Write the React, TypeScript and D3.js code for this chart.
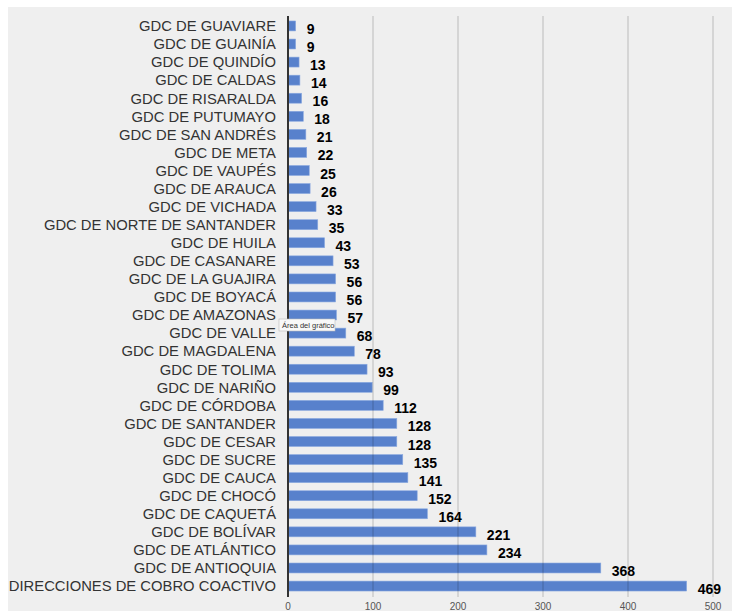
import * as d3 from "d3"
import { useEffect, useRef } from "react"

const categories = [
    "GDC DE GUAVIARE", "GDC DE GUAINÍA", "GDC DE QUINDÍO", "GDC DE CALDAS",
    "GDC DE RISARALDA", "GDC DE PUTUMAYO", "GDC DE SAN ANDRÉS", "GDC DE META",
    "GDC DE VAUPÉS", "GDC DE ARAUCA", "GDC DE VICHADA", "GDC DE NORTE DE SANTANDER",
    "GDC DE HUILA", "GDC DE CASANARE", "GDC DE LA GUAJIRA", "GDC DE BOYACÁ",
    "GDC DE AMAZONAS", "GDC DE VALLE", "GDC DE MAGDALENA", "GDC DE TOLIMA",
    "GDC DE NARIÑO", "GDC DE CÓRDOBA", "GDC DE SANTANDER", "GDC DE CESAR",
    "GDC DE SUCRE", "GDC DE CAUCA", "GDC DE CHOCÓ", "GDC DE CAQUETÁ",
    "GDC DE BOLÍVAR", "GDC DE ATLÁNTICO", "GDC DE ANTIOQUIA", "DIRECCIONES DE COBRO COACTIVO",
]
const values = [
    9, 9, 13, 14, 16, 18, 21, 22, 25, 26, 33, 35, 43, 53, 56, 56,
    57, 68, 78, 93, 99, 112, 128, 128, 135, 141, 152, 164, 221, 234, 368, 469,
]
const xTicks = [0, 100, 200, 300, 400, 500]

export default function App() {
    const svgRef = useRef<SVGSVGElement>(null)

    useEffect(() => {
        document.body.style.margin = "0"
        const width = 732
        const height = 611
        const marginLeft = 288
        const marginRight = 19
        const marginTop = 17
        const marginBottom = 16

        const xScale = d3.scaleLinear([0, 500], [marginLeft, width - marginRight])
        const yScale = d3.scaleBand(categories, [marginTop, height - marginBottom]).paddingInner(0.45).paddingOuter(0.22)

        if (svgRef.current !== null) {
            svgRef.current.innerHTML = ""
        }

        const svg = d3.select(svgRef.current)
            .attr("viewBox", [0, 0, width, height])
            .attr("width", width)
            .attr("height", height)
            .style("display", "block")
            .style("font-family", "'Liberation Sans', Arial, sans-serif")

        svg.append("rect")
            .attr("x", 8).attr("y", 7)
            .attr("width", width - 8).attr("height", height - 7)
            .attr("fill", "#efefef")

        svg.append("g")
            .attr("fill", "#5881cc")
            .attr("stroke", "#8aa9e0")
            .attr("stroke-width", 0.6)
            .selectAll()
            .data(values)
            .join("rect")
                .attr("x", xScale(0))
                .attr("y", (_, i) => yScale(categories[i])!)
                .attr("width", v => xScale(v) - xScale(0))
                .attr("height", yScale.bandwidth())

        // gridlines drawn over bars, faint
        svg.append("g")
            .selectAll()
            .data(xTicks.slice(1))
            .join("line")
                .attr("x1", t => xScale(t)).attr("x2", t => xScale(t))
                .attr("y1", 16).attr("y2", height - 14)
                .attr("stroke", "rgba(0,0,0,0.18)")
                .attr("stroke-width", 1.2)

        svg.append("line")
            .attr("x1", xScale(0)).attr("x2", xScale(0))
            .attr("y1", 16).attr("y2", height - 14)
            .attr("stroke", "#333")
            .attr("stroke-width", 2)

        svg.append("g")
            .selectAll()
            .data(categories)
            .join("text")
                .attr("x", 276)
                .attr("y", c => yScale(c)! + yScale.bandwidth() / 2)
                .attr("dy", "0.36em")
                .attr("text-anchor", "end")
                .attr("font-size", 14.8)
                .attr("fill", "#333")
                .text(c => c)

        svg.append("g")
            .selectAll()
            .data(values)
            .join("text")
                .attr("x", v => xScale(v) + 11)
                .attr("y", (_, i) => yScale(categories[i])! + yScale.bandwidth() / 2 + 3)
                .attr("dy", "0.36em")
                .attr("font-size", 14)
                .attr("font-weight", "bold")
                .attr("fill", "#000")
                .text(v => v)

        svg.append("g")
            .selectAll()
            .data(xTicks)
            .join("text")
                .attr("x", t => xScale(t))
                .attr("y", 606)
                .attr("dy", "0.36em")
                .attr("text-anchor", "middle")
                .attr("font-size", 10)
                .attr("fill", "#555")
                .text(t => t)

        // tooltip seen in the screenshot
        const tip = svg.append("g").attr("transform", "translate(279, 319)")
        tip.append("rect")
            .attr("width", 56).attr("height", 12)
            .attr("fill", "#f8f8f8")
            .attr("stroke", "#bbb")
            .attr("stroke-width", 0.6)
        tip.append("text")
            .attr("x", 3).attr("y", 6)
            .attr("dy", "0.36em")
            .attr("font-size", 7.5)
            .attr("fill", "#333")
            .text("Área del gráfico")
    }, [])

    return <svg ref={svgRef}></svg>
}
